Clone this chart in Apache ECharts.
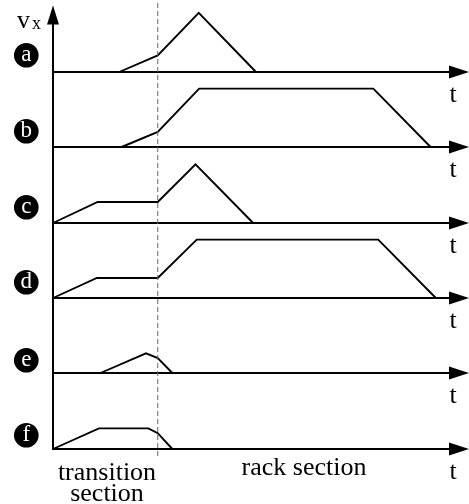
<!DOCTYPE html>
<html>
<head>
<meta charset="utf-8">
<script src="https://cdn.jsdelivr.net/npm/echarts@6/dist/echarts.min.js"></script>
<style>
  html, body { margin: 0; padding: 0; background: #fff; }
  #chart { width: 469px; height: 504px; }
</style>
</head>
<body>
<div id="chart"></div>
<script>
// Velocity profiles v_x(t) for six drive cases, a–f.
// Time in arbitrary units (0–100), velocity in units of the transition speed.
const TIME_MAX = 100;
const V_MAX = 3;

// moment the vehicle passes from the transition section into the rack section
const boundaryTime = 25.8;

const caseLabels = ['a', 'b', 'c', 'd', 'e', 'f'];

const caseA = [[16.3, 0], [25.8, 0.83], [35.9, 2.96], [50.0, 0]];
const caseB = [[16.9, 0], [25.8, 0.75], [36.0, 2.92], [78.9, 2.92], [93.0, 0]];
const caseC = [[0, 0], [11.0, 1.05], [25.8, 1.05], [35.1, 2.93], [49.3, 0]];
const caseD = [[0, 0], [10.8, 1.0], [25.8, 1.0], [35.4, 2.92], [80.1, 2.92], [94.3, 0]];
const caseE = [[11.7, 0], [22.9, 0.98], [25.8, 0.75], [29.4, 0]];
const caseF = [[0, 0], [11.3, 1.03], [23.5, 1.03], [25.8, 0.79], [29.4, 0]];

const cases = [caseA, caseB, caseC, caseD, caseE, caseF];

const timeAxisLabel = 't';
const velocityLabel = 'v';
const velocitySub = 'x';
const sectionLabels = ['transition\nsection', 'rack section'];

// ---- layout ----
const FONT = '"Liberation Serif", "Times New Roman", serif';
const AXIS_LEFT = 53;
const AXIS_RIGHT = 10;
const PANEL_BASELINES = [72, 147, 223, 298, 373, 449];
const PANEL_HEIGHT = 60;
const BADGE_Y = [55, 131, 207, 282, 360, 435];
const CHART_H = 504;

const grids = [];
const xAxes = [];
const yAxes = [];
const series = [];
const graphics = [];

cases.forEach(function (data, i) {
  const base = PANEL_BASELINES[i];
  grids.push({ left: AXIS_LEFT, right: AXIS_RIGHT, top: base - PANEL_HEIGHT, height: PANEL_HEIGHT });
  xAxes.push({
    gridIndex: i, type: 'value', min: 0, max: TIME_MAX,
    axisLine: {
      show: true, onZero: false,
      symbol: ['none', 'triangle'], symbolSize: [13, 20],
      lineStyle: { color: '#000', width: 2 }
    },
    axisTick: { show: false }, axisLabel: { show: false }, splitLine: { show: false }
  });
  yAxes.push({ gridIndex: i, type: 'value', min: 0, max: V_MAX, show: false });
  series.push({
    type: 'line', name: caseLabels[i], xAxisIndex: i, yAxisIndex: i,
    data: data, showSymbol: false, clip: false, silent: true,
    lineStyle: { color: '#000', width: 1.9, join: 'miter' }
  });

  // circled case letter
  graphics.push({
    type: 'group', left: 14, top: BADGE_Y[i] - 12,
    children: [
      { type: 'circle', shape: { cx: 12, cy: 12, r: 12.3 }, style: { fill: '#000' } },
      { type: 'text', x: 12, y: 12,
        style: { text: caseLabels[i], fill: '#fff', font: '23px ' + FONT, align: 'center', verticalAlign: 'middle' } }
    ]
  });
  // time-axis caption under the arrow
  graphics.push({
    type: 'text', x: 453, y: base + 23,
    style: { text: timeAxisLabel, fill: '#000', font: '26px ' + FONT, align: 'center', verticalAlign: 'middle' }
  });
});

// shared velocity axis
const vIdx = cases.length;
grids.push({ left: AXIS_LEFT, right: AXIS_RIGHT, top: 15, bottom: CHART_H - PANEL_BASELINES[5] });
xAxes.push({ gridIndex: vIdx, type: 'value', min: 0, max: TIME_MAX, show: false });
yAxes.push({
  gridIndex: vIdx, type: 'value', min: 0, max: 1, position: 'left',
  axisLine: {
    show: true, onZero: false,
    symbol: ['none', 'triangle'], symbolSize: [12, 19],
    lineStyle: { color: '#000', width: 2 }
  },
  axisTick: { show: false }, axisLabel: { show: false }, splitLine: { show: false }
});

// dashed section boundary across all panels
const bIdx = cases.length + 1;
grids.push({ left: AXIS_LEFT, right: AXIS_RIGHT, top: 3, bottom: CHART_H - 456 });
xAxes.push({ gridIndex: bIdx, type: 'value', min: 0, max: TIME_MAX, show: false });
yAxes.push({ gridIndex: bIdx, type: 'value', min: 0, max: 1, show: false });
series.push({
  type: 'line', name: 'boundary', xAxisIndex: bIdx, yAxisIndex: bIdx,
  data: [[boundaryTime, 0], [boundaryTime, 1]], showSymbol: false, silent: true,
  lineStyle: { color: '#666', width: 1, type: [5, 3] }
});

// v_x caption
graphics.push({
  type: 'text', x: 17, y: 21,
  style: { text: velocityLabel, fill: '#000', font: '26px ' + FONT, verticalAlign: 'middle' }
});
graphics.push({
  type: 'text', x: 32, y: 24,
  style: { text: velocitySub, fill: '#000', font: '18px ' + FONT, verticalAlign: 'middle' }
});

// section captions
graphics.push({
  type: 'text', x: 107, y: 463,
  style: { text: sectionLabels[0], fill: '#000', font: '26px ' + FONT, align: 'center', verticalAlign: 'top', lineHeight: 21 }
});
graphics.push({
  type: 'text', x: 304, y: 468,
  style: { text: sectionLabels[1], fill: '#000', font: '26px ' + FONT, align: 'center', verticalAlign: 'middle' }
});

const chart = echarts.init(document.getElementById('chart'), null, { renderer: 'canvas' });
chart.setOption({
  backgroundColor: '#fff',
  animation: false,
  grid: grids,
  xAxis: xAxes,
  yAxis: yAxes,
  series: series,
  graphic: graphics
});
</script>
</body>
</html>
